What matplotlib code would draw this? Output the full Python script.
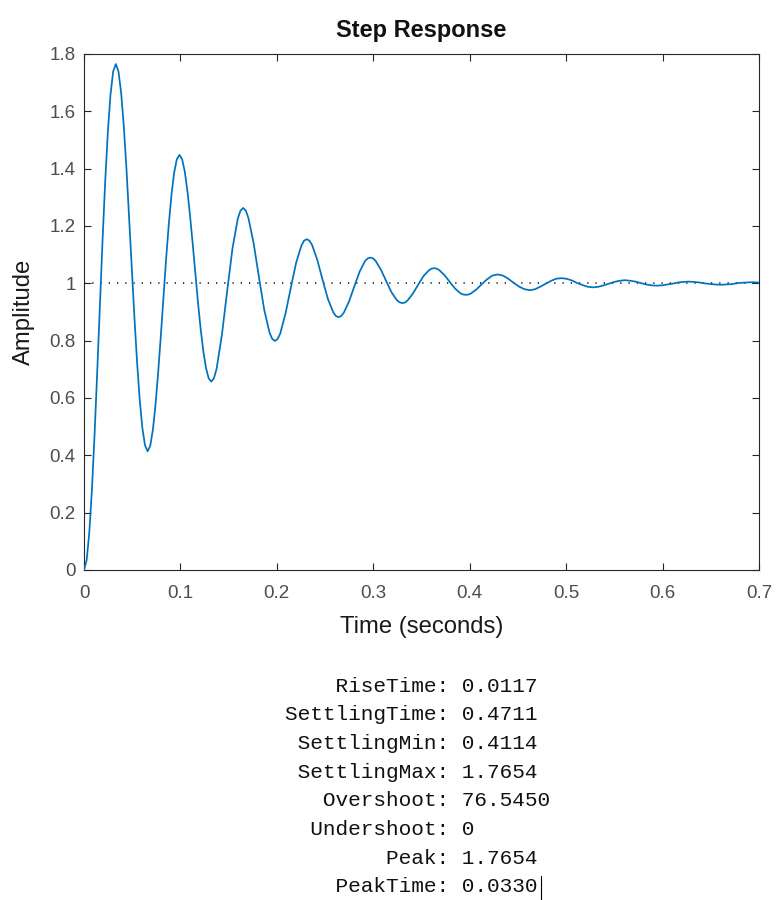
import numpy as np
import matplotlib
matplotlib.use("Agg")
import matplotlib.pyplot as plt
from matplotlib.ticker import FuncFormatter
from matplotlib.lines import Line2D

# ---- data ----
time_early = [0, 0.00275, 0.0055, 0.00825, 0.011, 0.01375, 0.0165, 0.01925, 0.022, 0.02475,
              0.0275, 0.03025, 0.033, 0.03575, 0.0385, 0.04125, 0.044, 0.04675, 0.0495, 0.05225,
              0.055, 0.05775, 0.0605, 0.06325, 0.066, 0.06875, 0.0715, 0.07425, 0.077, 0.07975,
              0.0825, 0.08525, 0.088, 0.09075, 0.0935, 0.09625, 0.099, 0.10175, 0.1045, 0.10725,
              0.11, 0.11275, 0.1155, 0.11825, 0.121, 0.12375, 0.1265, 0.12925]
amp_early = [0.000, 0.034, 0.131, 0.282, 0.475, 0.695, 0.926, 1.151, 1.357, 1.529, 1.659, 1.739,
             1.765, 1.739, 1.665, 1.549, 1.402, 1.233, 1.057, 0.884, 0.727, 0.595, 0.496, 0.435,
             0.414, 0.434, 0.491, 0.580, 0.693, 0.821, 0.956, 1.089, 1.209, 1.310, 1.386, 1.433,
             1.448, 1.433, 1.390, 1.322, 1.235, 1.137, 1.033, 0.932, 0.840, 0.763, 0.705, 0.669]

time_late = [0.132, 0.1375, 0.143, 0.1485, 0.154, 0.1595, 0.165, 0.1705, 0.176, 0.1815, 0.187, 0.1925,
             0.198, 0.2035, 0.209, 0.2145, 0.22, 0.2255, 0.231, 0.2365, 0.242, 0.2475, 0.253, 0.2585,
             0.264, 0.2695, 0.275, 0.2805, 0.286, 0.2915, 0.297, 0.3025, 0.308, 0.3135, 0.319, 0.3245,
             0.33, 0.3355, 0.341, 0.3465, 0.352, 0.3575, 0.363, 0.3685, 0.374, 0.3795, 0.385, 0.3905,
             0.396, 0.4015, 0.407, 0.4125, 0.418, 0.4235, 0.429, 0.4345, 0.44, 0.4455, 0.451, 0.4565,
             0.462, 0.4675, 0.473, 0.4785, 0.484, 0.4895, 0.495, 0.5005, 0.506, 0.5115, 0.517, 0.5225,
             0.528, 0.5335, 0.539, 0.5445, 0.55, 0.5555, 0.561, 0.5665, 0.572, 0.5775, 0.583, 0.5885,
             0.594, 0.5995, 0.605, 0.6105, 0.616, 0.6215, 0.627, 0.6325, 0.638, 0.6435, 0.649, 0.6545,
             0.66, 0.6655, 0.671, 0.6765, 0.682, 0.6875, 0.693, 0.6985, 0.704]
amp_late = [0.657, 0.702, 0.820, 0.974, 1.122, 1.226, 1.263, 1.228, 1.138, 1.020, 0.906, 0.827,
            0.799, 0.825, 0.895, 0.985, 1.072, 1.132, 1.154, 1.134, 1.081, 1.011, 0.945, 0.899,
            0.882, 0.898, 0.938, 0.991, 1.042, 1.078, 1.090, 1.078, 1.047, 1.007, 0.968, 0.941,
            0.931, 0.940, 0.964, 0.995, 1.025, 1.045, 1.053, 1.046, 1.028, 1.004, 0.981, 0.965,
            0.960, 0.965, 0.979, 0.997, 1.014, 1.027, 1.031, 1.027, 1.016, 1.002, 0.989, 0.980,
            0.976, 0.979, 0.988, 0.998, 1.008, 1.016, 1.018, 1.016, 1.010, 1.001, 0.994, 0.988,
            0.986, 0.988, 0.993, 0.999, 1.005, 1.009, 1.011, 1.009, 1.006, 1.001, 0.996, 0.993,
            0.992, 0.993, 0.996, 0.999, 1.003, 1.005, 1.006, 1.005, 1.003, 1.000, 0.998, 0.996,
            0.995, 0.996, 0.997, 1.000, 1.002, 1.003, 1.004, 1.003, 1.002]

# extra readings close to the later peaks and troughs
time_near_extrema = [0.13475, 0.16225, 0.16775, 0.19525, 0.20075, 0.22825, 0.23375,
                     0.26125, 0.26675, 0.29425, 0.29975, 0.32725, 0.33275, 0.36025, 0.36575,
                     0.39325, 0.39875]
amp_near_extrema = [0.669, 1.253, 1.254, 0.806, 0.806, 1.149, 1.149,
                    0.886, 0.886, 1.087, 1.087, 0.934, 0.933, 1.051, 1.051,
                    0.961, 0.961]

steady_state = 1.0
x_ticks = [0, 0.1, 0.2, 0.3, 0.4, 0.5, 0.6, 0.7]
y_ticks = [0, 0.2, 0.4, 0.6, 0.8, 1.0, 1.2, 1.4, 1.6, 1.8]

info_names = ["RiseTime", "SettlingTime", "SettlingMin", "SettlingMax",
              "Overshoot", "Undershoot", "Peak", "PeakTime"]
info_values = ["0.0117", "0.4711", "0.4114", "1.7654", "76.5450", "0", "1.7654", "0.0330"]

# ---- figure ----
W, H = 778, 900
fig = plt.figure(figsize=(W / 100, H / 100), dpi=100)
fig.patch.set_facecolor("white")

ax_l, ax_r, ax_t, ax_b = 84, 759, 54, 570
ax = fig.add_axes([ax_l / W, 1 - ax_b / H, (ax_r - ax_l) / W, (ax_b - ax_t) / H])

axis_col = "#262626"
sans = ["Liberation Sans", "DejaVu Sans"]

t = np.array(time_early + time_late + time_near_extrema)
y = np.array(amp_early + amp_late + amp_near_extrema)
order = np.argsort(t, kind="stable")
t, y = t[order], y[order]

ax.plot(t, y, color="#0072BD", lw=1.25, solid_joinstyle="round", zorder=3)
ax.axhline(steady_state, color="black", lw=1.1, linestyle=(0, (0.8, 4.6)), zorder=2)

ax.set_xlim(0, 0.7)
ax.set_ylim(0, 1.8)
ax.set_xticks(x_ticks)
ax.set_yticks(y_ticks)
fmt = FuncFormatter(lambda v, p: ("%g" % round(v, 3)))
ax.xaxis.set_major_formatter(fmt)
ax.yaxis.set_major_formatter(fmt)

for s in ax.spines.values():
    s.set_color(axis_col)
    s.set_linewidth(0.8)

ax.tick_params(axis="both", which="major", direction="in", length=5, width=0.8,
               colors=axis_col, top=True, right=True, labelsize=13.5)
ax.tick_params(axis="x", pad=11)
ax.tick_params(axis="y", pad=6)
for lab in ax.get_xticklabels() + ax.get_yticklabels():
    lab.set_fontfamily(sans)
    lab.set_color("#4d4d4d")

ax.set_xlabel("Time (seconds)", fontsize=17.2, family=sans, color="#1a1a1a", va="center")
ax.xaxis.set_label_coords(0.5, -(627 - ax_b) / (ax_b - ax_t))
ax.set_ylabel("Amplitude", fontsize=17.2, family=sans, color="#1a1a1a", va="center")
ax.yaxis.set_label_coords(-(ax_l - 24) / (ax_r - ax_l), 0.5)
ax.set_title("Step Response", fontsize=17, fontweight="bold", family=sans, color="#111111",
             y=1 + (ax_t - 30) / (ax_b - ax_t), va="center", pad=0)

# ---- stepinfo text block ----
x0 = 285 / W
for i, (n, v) in enumerate(zip(info_names, info_values)):
    yc = 686 + 28.7 * i
    line = n.rjust(12) + ": " + v
    fig.text(x0, 1 - yc / H, line, family=["Liberation Mono", "DejaVu Sans Mono"],
             fontsize=15.2, color="#111111", ha="left", va="center")

# text cursor after the last value
fig.add_artist(Line2D([541 / W, 541 / W], [1 - 876 / H, 1 - 900 / H],
                      transform=fig.transFigure, color="black", lw=0.8))

fig.savefig("out.png", dpi=100, facecolor="white")
